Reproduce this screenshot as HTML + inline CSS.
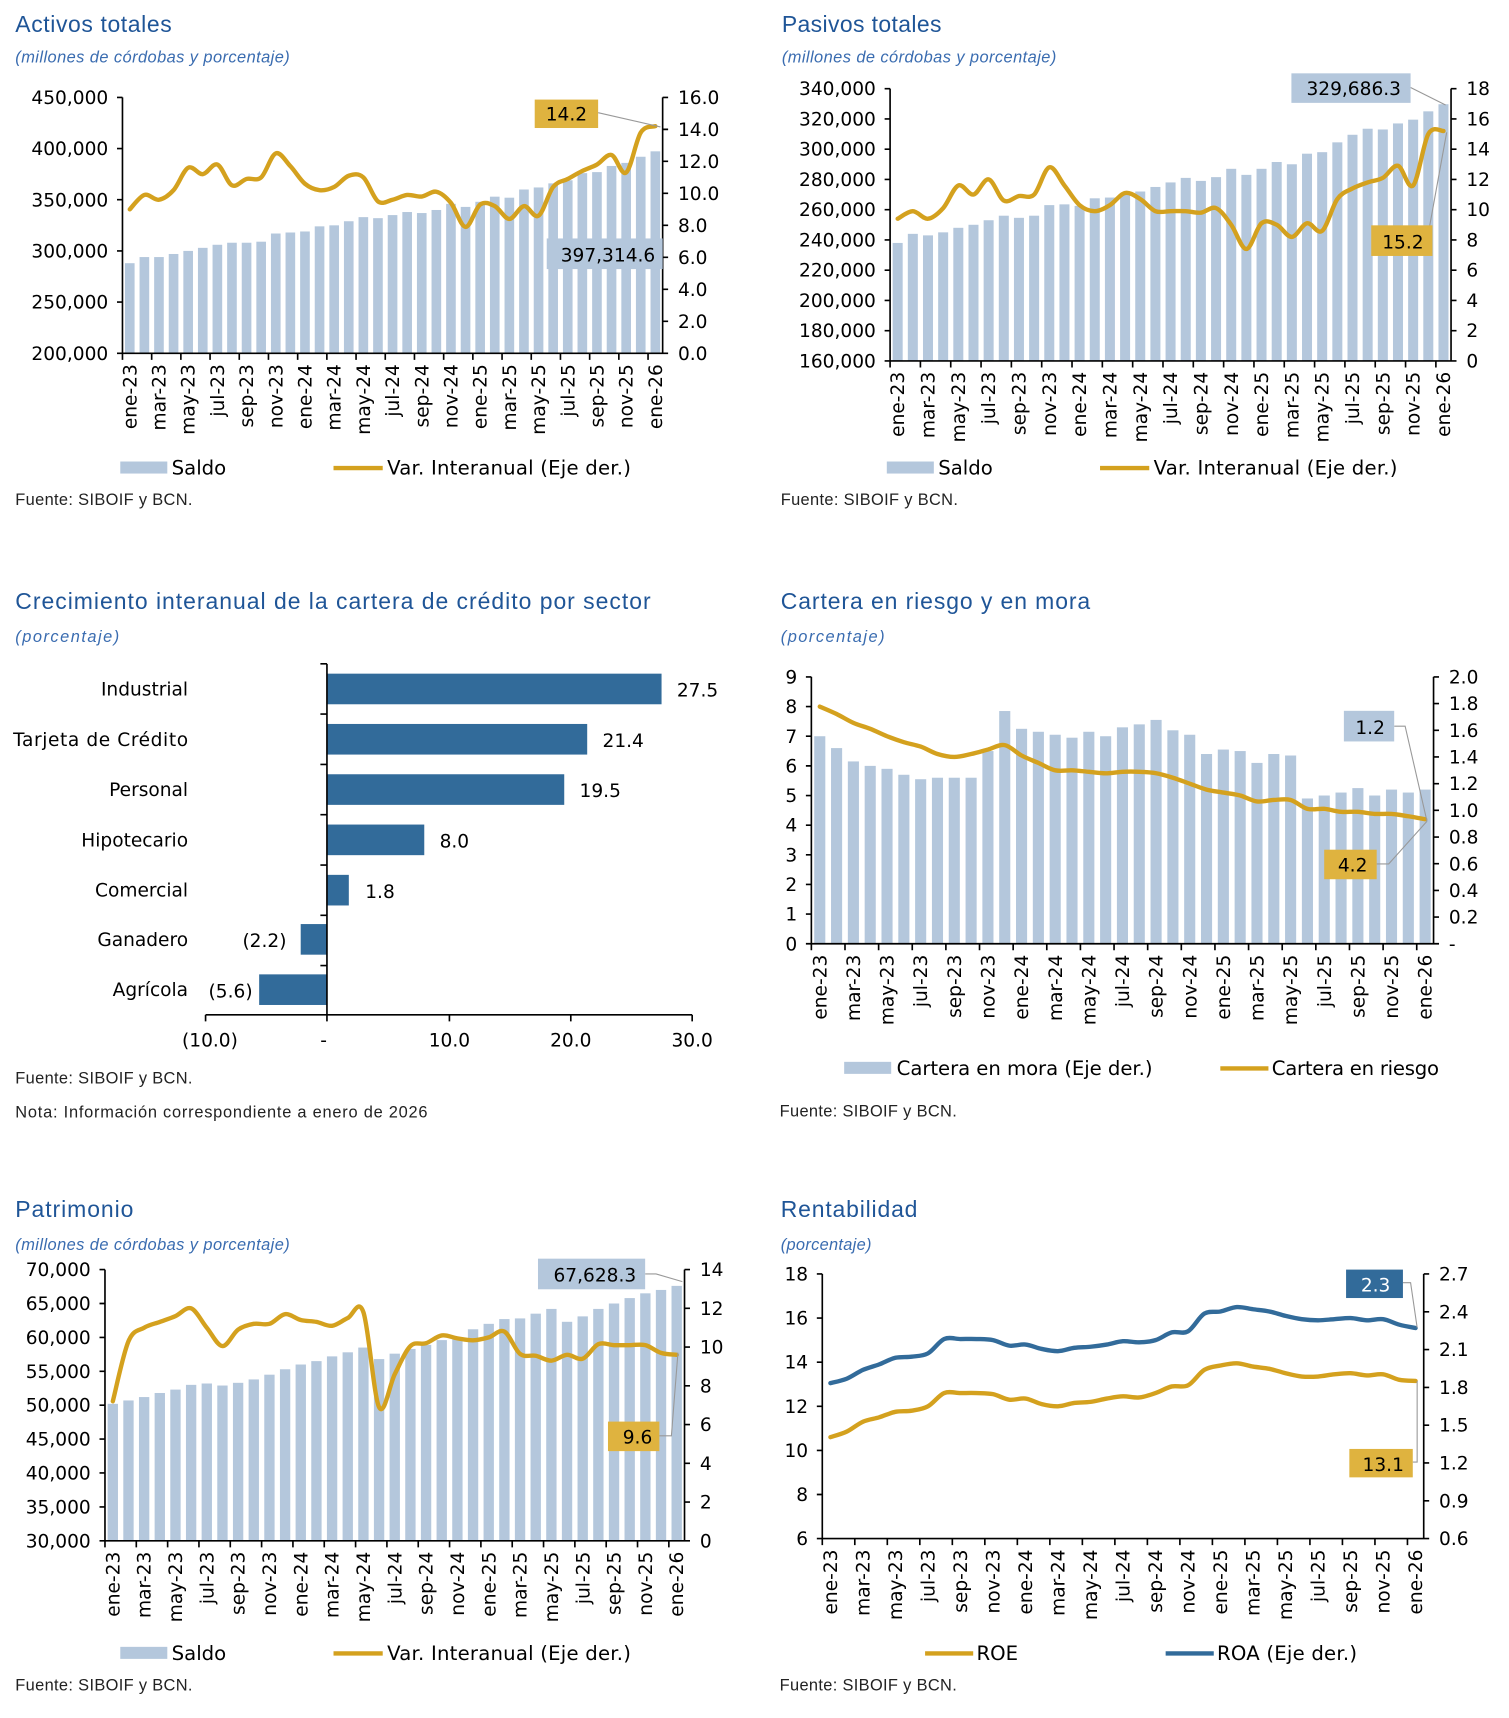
<!DOCTYPE html>
<html><head><meta charset="utf-8"><style>
html,body{margin:0;padding:0;background:#fff}
svg{display:block}
.t{font-family:"Liberation Sans",sans-serif;font-size:21px;fill:#1f5597}
.s{font-family:"Liberation Sans",sans-serif;font-size:15px;font-style:italic;fill:#3a6cb0}
.f{font-family:"Liberation Sans",sans-serif;font-size:15px;fill:#222}
.k{font-family:"DejaVu Sans",sans-serif;font-size:17px;fill:#000}
.lg{font-family:"DejaVu Sans",sans-serif;font-size:18px;fill:#000}
</style></head><body>
<svg id="S" xmlns="http://www.w3.org/2000/svg" width="1509" height="1718" viewBox="0 0 1380 1571">
<rect width="1380" height="1571" fill="#fff"/>
<text class="t" x="14" y="29" textLength="143">Activos totales</text>
<text class="s" x="14" y="57" textLength="251">(millones de córdobas y porcentaje)</text>
<text class="t" x="715" y="29" textLength="146">Pasivos totales</text>
<text class="s" x="715" y="57" textLength="251">(millones de córdobas y porcentaje)</text>
<text class="t" x="14" y="557" textLength="581">Crecimiento interanual de la cartera de crédito por sector</text>
<text class="s" x="14" y="587" textLength="95">(porcentaje)</text>
<text class="t" x="714" y="557" textLength="283">Cartera en riesgo y en mora</text>
<text class="s" x="714" y="587" textLength="95">(porcentaje)</text>
<text class="t" x="14" y="1113" textLength="108">Patrimonio</text>
<text class="s" x="14" y="1143" textLength="251">(millones de córdobas y porcentaje)</text>
<text class="t" x="714" y="1113" textLength="125">Rentabilidad</text>
<text class="s" x="714" y="1143" textLength="83">(porcentaje)</text>
<text class="f" x="14" y="462" textLength="162">Fuente: SIBOIF y BCN.</text>
<text class="f" x="714" y="462" textLength="162">Fuente: SIBOIF y BCN.</text>
<text class="f" x="14" y="991" textLength="162">Fuente: SIBOIF y BCN.</text>
<text class="f" x="14" y="1022" textLength="377">Nota: Información correspondiente a enero de 2026</text>
<text class="f" x="713" y="1021" textLength="162">Fuente: SIBOIF y BCN.</text>
<text class="f" x="14" y="1546" textLength="162">Fuente: SIBOIF y BCN.</text>
<text class="f" x="713" y="1546" textLength="162">Fuente: SIBOIF y BCN.</text>

<g id="geo"></g>

<g id="c1l" class="k" text-anchor="end"><text>200,000</text><text>250,000</text><text>300,000</text><text>350,000</text><text>400,000</text><text>450,000</text></g>
<g id="c1r" class="k"><text>0.0</text><text>2.0</text><text>4.0</text><text>6.0</text><text>8.0</text><text>10.0</text><text>12.0</text><text>14.0</text><text>16.0</text></g>
<g id="c1x" class="k" text-anchor="end"><text>ene-23</text><text>mar-23</text><text>may-23</text><text>jul-23</text><text>sep-23</text><text>nov-23</text><text>ene-24</text><text>mar-24</text><text>may-24</text><text>jul-24</text><text>sep-24</text><text>nov-24</text><text>ene-25</text><text>mar-25</text><text>may-25</text><text>jul-25</text><text>sep-25</text><text>nov-25</text><text>ene-26</text></g>
<g id="c2l" class="k" text-anchor="end"><text>160,000</text><text>180,000</text><text>200,000</text><text>220,000</text><text>240,000</text><text>260,000</text><text>280,000</text><text>300,000</text><text>320,000</text><text>340,000</text></g>
<g id="c2r" class="k"><text>0</text><text>2</text><text>4</text><text>6</text><text>8</text><text>10</text><text>12</text><text>14</text><text>16</text><text>18</text></g>
<g id="c2x" class="k" text-anchor="end"><text>ene-23</text><text>mar-23</text><text>may-23</text><text>jul-23</text><text>sep-23</text><text>nov-23</text><text>ene-24</text><text>mar-24</text><text>may-24</text><text>jul-24</text><text>sep-24</text><text>nov-24</text><text>ene-25</text><text>mar-25</text><text>may-25</text><text>jul-25</text><text>sep-25</text><text>nov-25</text><text>ene-26</text></g>
<g id="c4l" class="k" text-anchor="end"><text>0</text><text>1</text><text>2</text><text>3</text><text>4</text><text>5</text><text>6</text><text>7</text><text>8</text><text>9</text></g>
<g id="c4r" class="k"><text>-</text><text>0.2</text><text>0.4</text><text>0.6</text><text>0.8</text><text>1.0</text><text>1.2</text><text>1.4</text><text>1.6</text><text>1.8</text><text>2.0</text></g>
<g id="c4x" class="k" text-anchor="end"><text>ene-23</text><text>mar-23</text><text>may-23</text><text>jul-23</text><text>sep-23</text><text>nov-23</text><text>ene-24</text><text>mar-24</text><text>may-24</text><text>jul-24</text><text>sep-24</text><text>nov-24</text><text>ene-25</text><text>mar-25</text><text>may-25</text><text>jul-25</text><text>sep-25</text><text>nov-25</text><text>ene-26</text></g>
<g id="c5l" class="k" text-anchor="end"><text>30,000</text><text>35,000</text><text>40,000</text><text>45,000</text><text>50,000</text><text>55,000</text><text>60,000</text><text>65,000</text><text>70,000</text></g>
<g id="c5r" class="k"><text>0</text><text>2</text><text>4</text><text>6</text><text>8</text><text>10</text><text>12</text><text>14</text></g>
<g id="c5x" class="k" text-anchor="end"><text>ene-23</text><text>mar-23</text><text>may-23</text><text>jul-23</text><text>sep-23</text><text>nov-23</text><text>ene-24</text><text>mar-24</text><text>may-24</text><text>jul-24</text><text>sep-24</text><text>nov-24</text><text>ene-25</text><text>mar-25</text><text>may-25</text><text>jul-25</text><text>sep-25</text><text>nov-25</text><text>ene-26</text></g>
<g id="c6l" class="k" text-anchor="end"><text>6</text><text>8</text><text>10</text><text>12</text><text>14</text><text>16</text><text>18</text></g>
<g id="c6r" class="k"><text>0.6</text><text>0.9</text><text>1.2</text><text>1.5</text><text>1.8</text><text>2.1</text><text>2.4</text><text>2.7</text></g>
<g id="c6x" class="k" text-anchor="end"><text>ene-23</text><text>mar-23</text><text>may-23</text><text>jul-23</text><text>sep-23</text><text>nov-23</text><text>ene-24</text><text>mar-24</text><text>may-24</text><text>jul-24</text><text>sep-24</text><text>nov-24</text><text>ene-25</text><text>mar-25</text><text>may-25</text><text>jul-25</text><text>sep-25</text><text>nov-25</text><text>ene-26</text></g>

<g fill="#326b9a">
<rect x="299" y="616" width="306" height="28"/><rect x="299" y="662" width="238" height="28"/><rect x="299" y="708" width="217" height="28"/><rect x="299" y="754" width="89" height="28"/><rect x="299" y="800" width="20" height="28"/><rect x="275" y="845" width="24" height="28"/><rect x="237" y="891" width="62" height="28"/>
</g>
<g stroke="#000" stroke-width="1.5" fill="none">
<path d="M299 607V928M188 928H633M293 607H299M293 653H299M293 699H299M293 745H299M293 791H299M293 837H299M293 883H299M188 928V934M299 928V934M411 928V934M522 928V934M633 928V934"/>
</g>
<g class="k" font-size="18" text-anchor="end">
<text x="172" y="636">Industrial</text><text x="172" y="682" textLength="160">Tarjeta de Crédito</text><text x="172" y="728">Personal</text><text x="172" y="774">Hipotecario</text><text x="172" y="820">Comercial</text><text x="172" y="865">Ganadero</text><text x="172" y="911">Agrícola</text>
<text x="262" y="866">(2.2)</text><text x="231" y="912">(5.6)</text>
</g>
<g class="k" font-size="18">
<text x="619" y="637">27.5</text><text x="551" y="683">21.4</text><text x="530" y="729">19.5</text><text x="402" y="775">8.0</text><text x="334" y="821">1.8</text>
</g>
<g class="k" font-size="18" text-anchor="middle">
<text x="192" y="957">(10.0)</text><text x="296" y="957">-</text><text x="411" y="957">10.0</text><text x="522" y="957">20.0</text><text x="633" y="957">30.0</text>
</g>

<g class="lg">
<rect x="110" y="422" width="43" height="11" fill="#b4c7dc"/><text x="157" y="434">Saldo</text>
<path d="M305 428H350" stroke="#d4a11e" stroke-width="4"/><text x="354" y="434" textLength="223">Var. Interanual (Eje der.)</text>
<rect x="811" y="422" width="43" height="11" fill="#b4c7dc"/><text x="858" y="434">Saldo</text>
<path d="M1006 428H1051" stroke="#d4a11e" stroke-width="4"/><text x="1055" y="434" textLength="223">Var. Interanual (Eje der.)</text>
<rect x="772" y="971" width="43" height="11" fill="#b4c7dc"/><text x="820" y="983" textLength="234">Cartera en mora (Eje der.)</text>
<path d="M1116 977H1160" stroke="#d4a11e" stroke-width="4"/><text x="1163" y="983" textLength="153">Cartera en riesgo</text>
<rect x="110" y="1506" width="43" height="11" fill="#b4c7dc"/><text x="157" y="1518">Saldo</text>
<path d="M305 1512H350" stroke="#d4a11e" stroke-width="4"/><text x="354" y="1518" textLength="223">Var. Interanual (Eje der.)</text>
<path d="M846 1512H890" stroke="#d4a11e" stroke-width="4"/><text x="893" y="1518">ROE</text>
<path d="M1066 1512H1110" stroke="#326b9a" stroke-width="4"/><text x="1113" y="1518" textLength="128">ROA (Eje der.)</text>
</g>

<g id="call">
<path d="M547 103L604 116M1290 80L1322 96M1305 220L1323 121M1275 664L1285 664L1305 751M1259 790L1270 790L1305 751M590 1165L600 1165L624 1172M603 1313L614 1313L620 1237M1283 1173L1290 1173L1296 1214M1292 1337L1296 1337L1296 1263" stroke="#999" stroke-width="1" fill="none"/>
<rect x="489" y="91" width="58" height="26" fill="#dfb33f"/>
<rect x="500" y="218" width="106" height="28" fill="#b4c7dc"/>
<rect x="1181" y="67" width="109" height="27" fill="#b4c7dc"/>
<rect x="1254" y="206" width="56" height="28" fill="#dfb33f"/>
<rect x="1229" y="650" width="46" height="28" fill="#b4c7dc"/>
<rect x="1211" y="777" width="48" height="27" fill="#dfb33f"/>
<rect x="492" y="1151" width="98" height="28" fill="#b4c7dc"/>
<rect x="556" y="1300" width="47" height="27" fill="#dfb33f"/>
<rect x="1231" y="1161" width="52" height="26" fill="#326b9a"/>
<rect x="1234" y="1325" width="58" height="26" fill="#dfb33f"/>
<g class="k" font-size="17" text-anchor="middle">
<text x="518" y="110">14.2</text><text x="556" y="239">397,314.6</text><text x="1238" y="87">329,686.3</text><text x="1283" y="227">15.2</text><text x="1253" y="671">1.2</text><text x="1237" y="797">4.2</text><text x="544" y="1172">67,628.3</text><text x="583" y="1320">9.6</text><text x="1258" y="1181" fill="#fff">2.3</text><text x="1265" y="1345">13.1</text>
</g>
</g>
</svg>
<script>
var NS="http://www.w3.org/2000/svg",G=document.getElementById("geo");
function el(t,a){var e=document.createElementNS(NS,t);for(var k in a)e.setAttribute(k,a[k]);G.appendChild(e);return e;}
function smooth(p){var d="M"+p[0][0]+" "+p[0][1];for(var i=0;i<p.length-1;i++){var p0=p[i-1]||p[i],p1=p[i],p2=p[i+1],p3=p[i+2]||p2;
d+="C"+(p1[0]+(p2[0]-p0[0])/6)+" "+(p1[1]+(p2[1]-p0[1])/6)+" "+(p2[0]-(p3[0]-p1[0])/6)+" "+(p2[1]-(p3[1]-p1[1])/6)+" "+p2[0]+" "+p2[1];}return d;}
function chart(o){
 var n=37,slot=(o.R-o.L)/n,h=o.B-o.T;
 function Y(v,a,b){return o.B-(v-a)/(b-a)*h;}
 if(o.bars)o.bars.forEach(function(v,i){var y=Y(v,o.lmin,o.lmax);el("rect",{x:o.L+slot*(i+0.5)-slot*0.33,y:y,width:slot*0.66,height:o.B-y,fill:"#b4c7dc"});});
 (o.lines||[]).forEach(function(ln){var pts=ln.v.map(function(v,i){return [o.L+slot*(i+0.5),Y(v,ln.a,ln.b)];});
  el("path",{d:smooth(pts),fill:"none",stroke:ln.c,"stroke-width":4,"stroke-linecap":"round","stroke-linejoin":"round"});});
 var d="M"+o.L+" "+o.T+"V"+o.B+"H"+o.R+"M"+o.R+" "+o.T+"V"+o.B;
 var nl=o.nl,nr=o.nr;
 for(var i=0;i<nl;i++){var y=o.B-h*i/(nl-1);d+="M"+(o.L-5)+" "+y+"H"+o.L;}
 for(i=0;i<nr;i++){y=o.B-h*i/(nr-1);d+="M"+o.R+" "+y+"H"+(o.R+5);}
 for(i=0;i<=n;i+=2){var x=o.L+slot*i;d+="M"+x+" "+o.B+"V"+(o.B+6);}
 el("path",{d:d,stroke:"#000","stroke-width":1.5,fill:"none"});
 var tl=document.querySelectorAll("#"+o.id+"l text");tl.forEach(function(t,i){t.setAttribute("x",o.L-13);t.setAttribute("y",o.B-h*i/(tl.length-1)+6);});
 var tr=document.querySelectorAll("#"+o.id+"r text");tr.forEach(function(t,i){t.setAttribute("x",o.R+14);t.setAttribute("y",o.B-h*i/(tr.length-1)+6);});
 var tx=document.querySelectorAll("#"+o.id+"x text");tx.forEach(function(t,k){var x=o.L+slot*(2*k+0.5)+6,y=o.B+10;t.setAttribute("transform","translate("+x+" "+y+") rotate(-90)");});
}
var G1="#d4a11e",B1="#326b9a";
chart({id:"c1",L:112,R:606,T:89,B:323,lmin:200,lmax:450,nl:6,nr:9,
bars:[288,294,294,297,300,303,306,308,308,309,317,318,319,324,325,329,333,332,335,338,337,340,346,343,348,353,352,360,362,366,369,376,377,383,386,392,397.3],
lines:[{a:0,b:16,c:G1,v:[9.0,9.9,9.6,10.2,11.6,11.2,11.8,10.5,10.9,11.0,12.5,11.7,10.6,10.2,10.4,11.1,11.0,9.5,9.6,9.9,9.8,10.1,9.4,7.9,9.3,9.2,8.4,9.2,8.6,10.4,10.9,11.4,11.8,12.4,11.3,13.8,14.2]}]});
chart({id:"c2",L:814,R:1327,T:81,B:330,lmin:160,lmax:340,nl:10,nr:10,
bars:[238,244,243,245,248,250,253,256,254.6,256,263,263.5,262.5,267.5,268,270,272,275,278,281,279,281.5,287,283,287,291.5,290,297,298,304.5,309.5,313.5,313,317,319.5,325,329.7],
lines:[{a:0,b:18,c:G1,v:[9.4,9.9,9.4,10.1,11.6,11.0,12.0,10.6,10.9,11.0,12.8,11.6,10.3,9.9,10.3,11.1,10.7,9.9,9.9,9.9,9.8,10.1,9.0,7.4,9.1,9.0,8.2,9.1,8.6,10.7,11.4,11.8,12.1,12.9,11.6,15.0,15.2]}]});
chart({id:"c4",L:742,R:1311,T:619,B:863,lmin:0,lmax:9,nl:10,nr:11,
bars:[7.0,6.6,6.15,6.0,5.9,5.7,5.55,5.6,5.6,5.6,6.5,7.85,7.25,7.15,7.05,6.95,7.15,7.0,7.3,7.4,7.55,7.2,7.05,6.4,6.55,6.5,6.1,6.4,6.35,4.9,5.0,5.1,5.25,5.0,5.2,5.1,5.2],
lines:[{a:0,b:9,c:G1,v:[8.0,7.75,7.45,7.25,7.0,6.8,6.65,6.4,6.3,6.4,6.55,6.7,6.35,6.1,5.85,5.85,5.8,5.75,5.8,5.8,5.75,5.6,5.4,5.2,5.1,5.0,4.8,4.85,4.85,4.55,4.55,4.45,4.45,4.38,4.38,4.3,4.2]}]});
chart({id:"c5",L:96,R:626,T:1161,B:1409,lmin:30,lmax:70,nl:9,nr:8,
bars:[50.2,50.7,51.2,51.8,52.3,53.0,53.2,52.9,53.3,53.8,54.5,55.3,56.0,56.5,57.2,57.8,58.5,56.8,57.6,58.3,58.9,59.6,60.0,61.2,62.0,62.7,62.8,63.5,64.2,62.3,63.1,64.2,65.0,65.8,66.5,67.0,67.6],
lines:[{a:0,b:14,c:G1,v:[7.2,10.3,11.0,11.3,11.6,12.0,11.0,10.05,10.9,11.2,11.2,11.7,11.4,11.3,11.1,11.5,11.8,6.9,8.6,10.05,10.2,10.6,10.45,10.35,10.5,10.8,9.65,9.55,9.3,9.6,9.4,10.15,10.1,10.1,10.1,9.7,9.6]}]});
chart({id:"c6",L:752,R:1302,T:1165,B:1407,nl:7,nr:8,
lines:[{a:6,b:18,c:G1,v:[10.6,10.85,11.3,11.5,11.75,11.8,12.0,12.6,12.6,12.6,12.55,12.3,12.35,12.1,12.0,12.15,12.2,12.35,12.45,12.4,12.6,12.9,12.95,13.65,13.85,13.95,13.8,13.7,13.5,13.35,13.35,13.45,13.5,13.4,13.45,13.2,13.15]},
{a:6,b:18,c:B1,v:[13.05,13.25,13.65,13.9,14.2,14.25,14.4,15.05,15.05,15.05,15.0,14.75,14.8,14.6,14.5,14.65,14.7,14.8,14.95,14.9,15.0,15.35,15.4,16.2,16.3,16.5,16.4,16.3,16.1,15.95,15.9,15.95,16.0,15.9,15.95,15.7,15.55]}]});
var S=document.getElementById("S");S.appendChild(document.getElementById("call"));
</script>
</body></html>
